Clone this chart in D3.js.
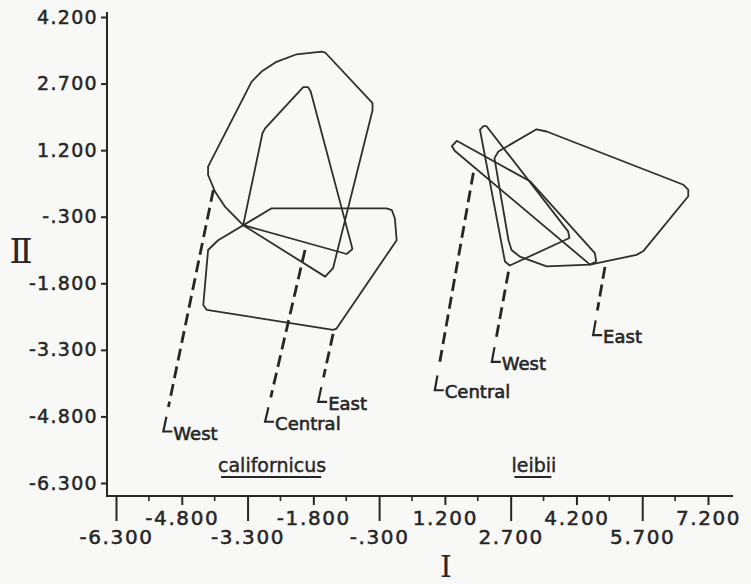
<!DOCTYPE html>
<html>
<head>
<meta charset="utf-8">
<script src="https://cdnjs.cloudflare.com/ajax/libs/d3/7.8.5/d3.min.js"></script>
<style>
  body { margin: 0; background: #f8f8f7; }
  svg { display: block; }
</style>
</head>
<body>
<div id="chart"></div>
<script>
// ---- data (component scores) ----
var xTicks = [-6.3, -4.8, -3.3, -1.8, -0.3, 1.2, 2.7, 4.2, 5.7, 7.2];
var xMinorTicks = [-5.55, -4.05, -2.55, -1.05, 0.45, 1.95, 3.45, 4.95, 6.45];
var yTicks = [4.2, 2.7, 1.2, -0.3, -1.8, -3.3, -4.8, -6.3];

var californicusWest = [[-3.21, 2.74], [-2.98, 2.97], [-2.64, 3.19], [-2.18, 3.36], [-1.61, 3.42],
    [-1.53, 3.40], [-0.45, 2.26], [-0.45, 2.10], [-1.35, -1.46], [-1.53, -1.65], [-3.40, -0.49],
    [-3.81, -0.08], [-4.04, 0.26], [-4.20, 0.64], [-4.20, 0.83]];
var californicusCentral = [[-2.03, 2.62], [-1.92, 2.62], [-1.86, 2.52], [-0.93, -0.94], [-0.91, -1.03],
    [-1.04, -1.14], [-3.40, -0.49], [-2.96, 1.58], [-2.90, 1.69]];
var californicusEast = [[-2.75, -0.11], [-0.13, -0.11], [-0.01, -0.15], [0.06, -0.34], [0.10, -0.83],
    [-1.27, -2.82], [-1.35, -2.85], [-4.23, -2.40], [-4.31, -2.29], [-4.20, -1.05], [-3.97, -0.83]];

var leibiiCentral = [[1.47, 1.41], [3.14, 0.50], [4.62, -1.12], [4.65, -1.31], [4.51, -1.38],
    [1.43, 1.18], [1.36, 1.29]];
var leibiiWest = [[2.00, 1.66], [2.08, 1.74], [2.15, 1.74], [4.01, -0.63], [4.04, -0.78],
    [2.68, -1.40], [2.57, -1.31]];
var leibiiEast = [[2.42, 1.17], [3.29, 1.67], [3.52, 1.62], [6.64, 0.42], [6.75, 0.31], [6.75, 0.16],
    [5.72, -1.08], [5.57, -1.16], [4.51, -1.38], [3.52, -1.42], [2.91, -1.20], [2.72, -1.05],
    [2.65, -0.83], [2.33, 1.02]];

var hulls = [californicusWest, californicusCentral, californicusEast, leibiiCentral, leibiiWest, leibiiEast];

// leader lines: from hull edge to the label corner (data units)
var leaders = [
    { label: "West",    from: [-4.08, 0.30],  to: [-5.22, -5.14] },
    { label: "Central", from: [-1.99, -1.05], to: [-2.90, -4.92] },
    { label: "East",    from: [-1.35, -2.94], to: [-1.69, -4.47] },
    { label: "Central", from: [1.85, 0.69],   to: [0.97, -4.21] },
    { label: "West",    from: [2.65, -1.54],  to: [2.27, -3.57] },
    { label: "East",    from: [4.85, -1.43],  to: [4.58, -2.97] }
];

var species = [
    { name: "californicus", at: [-2.74, -6.05] },
    { name: "leibii",       at: [3.23, -6.05] }
];

var w = 751, h = 584;
var ink = "#262626";

var svg = d3.select("#chart")
    .append("svg")
    .attr("width", w)
    .attr("height", h);

var x = d3.scaleLinear().domain([-6.3, 7.2]).range([116, 708]);
var y = d3.scaleLinear().domain([-6.3, 4.2]).range([483, 17]);

var axisLeftX = 107, axisBottomY = 496;

// old style labels: "-.300", plain hyphen
var fmt = function (d) {
    return d3.format(".3f")(d).replace("\u2212", "-").replace(/^(-?)0\./, "$1.");
};

// --------- Y axis
var yAxisGroup = svg.append("g")
    .attr("class", "y axis")
    .attr("transform", "translate(" + axisLeftX + ",0)")
    .call(d3.axisLeft(y).tickValues(yTicks).tickFormat(fmt).tickSize(6).tickPadding(3));

yAxisGroup.select(".domain").remove();
yAxisGroup.selectAll(".tick line").attr("stroke", ink).attr("stroke-width", 2);
yAxisGroup.selectAll("text")
    .attr("fill", ink)
    .attr("stroke", ink)
    .attr("stroke-width", 0.5)
    .attr("font-family", "DejaVu Sans, sans-serif")
    .attr("font-size", 19)
    .attr("letter-spacing", 1.3);

svg.append("line")
    .attr("x1", axisLeftX).attr("x2", axisLeftX)
    .attr("y1", 12).attr("y2", axisBottomY + 1)
    .attr("stroke", ink).attr("stroke-width", 2);

// --------- X axis
var xAxisGroup = svg.append("g")
    .attr("class", "x axis")
    .attr("transform", "translate(0," + axisBottomY + ")")
    .call(d3.axisBottom(x).tickValues(xTicks).tickFormat(fmt).tickSize(25));

xAxisGroup.select(".domain").remove();
xAxisGroup.selectAll(".tick line")
    .attr("stroke", ink).attr("stroke-width", 2)
    .attr("y2", function (d, i) { return i % 2 ? 9 : 25; });
xAxisGroup.selectAll(".tick text")
    .attr("fill", ink)
    .attr("stroke", ink)
    .attr("stroke-width", 0.5)
    .attr("font-family", "DejaVu Sans, sans-serif")
    .attr("font-size", 20)
    .attr("letter-spacing", 1.6)
    .attr("dy", 0)
    .attr("y", function (d, i) { return i % 2 ? 29 : 48; });

xAxisGroup.selectAll(".minor")
    .data(xMinorTicks)
    .enter().append("line")
    .attr("class", "minor")
    .attr("x1", function (d) { return x(d); })
    .attr("x2", function (d) { return x(d); })
    .attr("y1", 0).attr("y2", 5)
    .attr("stroke", ink).attr("stroke-width", 1.6);

svg.append("line")
    .attr("x1", axisLeftX - 1).attr("x2", 733)
    .attr("y1", axisBottomY).attr("y2", axisBottomY)
    .attr("stroke", ink).attr("stroke-width", 2);

// --------- axis titles (roman numerals)
svg.append("text")
    .attr("x", 21).attr("y", 263)
    .attr("text-anchor", "middle")
    .attr("font-family", "DejaVu Serif, serif")
    .attr("font-size", 34)
    .attr("fill", ink)
    .text("Ⅱ");

svg.append("text")
    .attr("x", 446).attr("y", 577)
    .attr("text-anchor", "middle")
    .attr("font-family", "DejaVu Serif, serif")
    .attr("font-size", 30)
    .attr("fill", ink)
    .text("I");

// --------- hulls
var hullLine = d3.line()
    .x(function (d) { return x(d[0]); })
    .y(function (d) { return y(d[1]); })
    .curve(d3.curveLinearClosed);

svg.selectAll(".hull")
    .data(hulls)
    .enter().append("path")
    .attr("class", "hull")
    .attr("d", hullLine)
    .attr("fill", "none")
    .attr("stroke", "#2e2e2e")
    .attr("stroke-width", 1.8)
    .attr("stroke-linejoin", "round");

// --------- leaders with L hooks and labels
leaders.forEach(function (d) {
    var x0 = x(d.from[0]), y0 = y(d.from[1]);
    var x1 = x(d.to[0]), y1 = y(d.to[1]);
    var len = Math.sqrt((x1 - x0) * (x1 - x0) + (y1 - y0) * (y1 - y0));
    var ux = (x1 - x0) / len, uy = (y1 - y0) / len;

    svg.append("line")
        .attr("x1", x0).attr("y1", y0)
        .attr("x2", x1 - ux * 25).attr("y2", y1 - uy * 25)
        .attr("stroke", ink)
        .attr("stroke-width", 2.8)
        .attr("stroke-dasharray", "12,6");

    svg.append("path")
        .attr("d", "M" + (x1 - ux * 15) + "," + (y1 - uy * 15) + "L" + x1 + "," + y1 + "L" + (x1 + 9) + "," + y1)
        .attr("fill", "none")
        .attr("stroke", ink)
        .attr("stroke-width", 2.2);

    svg.append("text")
        .attr("x", x1 + 10)
        .attr("y", y1 + 8)
        .attr("font-family", "DejaVu Sans, sans-serif")
        .attr("font-size", 18)
        .attr("fill", ink)
        .attr("stroke", ink)
        .attr("stroke-width", 0.6)
        .text(d.label);
});

// --------- species names, underlined
species.forEach(function (d) {
    var t = svg.append("text")
        .attr("x", x(d.at[0]))
        .attr("y", y(d.at[1]))
        .attr("text-anchor", "middle")
        .attr("font-family", "DejaVu Sans, sans-serif")
        .attr("font-size", 19)
        .attr("fill", ink)
        .attr("stroke", ink)
        .attr("stroke-width", 0.4)
        .text(d.name);
    var tw = t.node().getComputedTextLength();
    svg.append("line")
        .attr("x1", x(d.at[0]) - tw / 2 + 3)
        .attr("x2", x(d.at[0]) + tw / 2 - 5)
        .attr("y1", y(d.at[1]) + 5)
        .attr("y2", y(d.at[1]) + 5)
        .attr("stroke", ink)
        .attr("stroke-width", 2);
});
</script>
</body>
</html>
